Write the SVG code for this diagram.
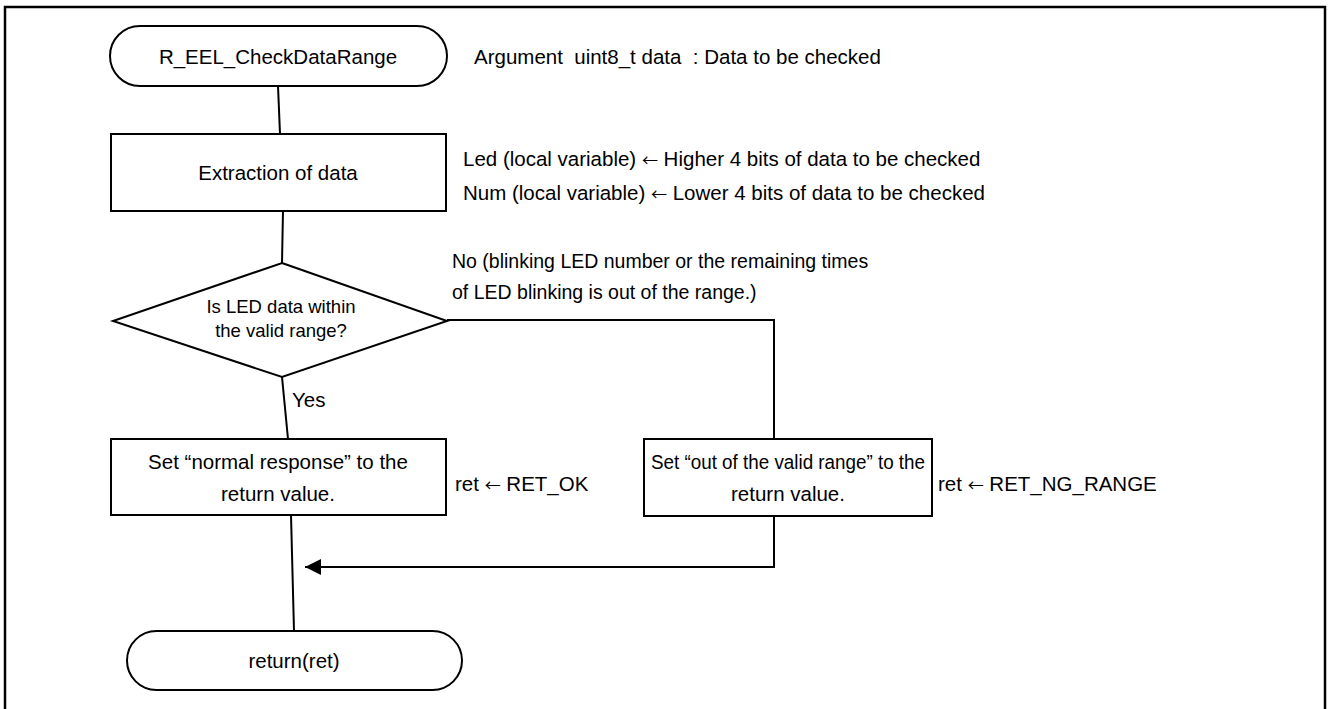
<svg xmlns="http://www.w3.org/2000/svg" width="1328" height="709" viewBox="0 0 1328 709">
<defs>
<style>
.shape{fill:#fff;stroke:#000;stroke-width:2}
.line{fill:none;stroke:#000;stroke-width:2}
.t{font-family:"Liberation Sans",Arial,sans-serif;font-size:20.5px;fill:#000;white-space:pre}
.c{text-anchor:middle}
.d{font-size:18.5px}
.n{font-size:19.5px}
.ar{font-family:"Noto Sans CJK JP","Liberation Sans",sans-serif;font-size:16px}
</style>
<marker id="arr" viewBox="0 0 10 10" refX="10" refY="5" markerWidth="16" markerHeight="20" markerUnits="userSpaceOnUse" orient="auto">
<path d="M0,0 L10,5 L0,10 Z" fill="#000"/>
</marker>
</defs>
<rect width="1328" height="709" fill="#fff"/>
<rect x="5" y="7" width="1320" height="712" fill="none" stroke="#000" stroke-width="2.5"/>

<g id="connectors">
<line class="line" x1="278" y1="86" x2="280" y2="134"/>
<line class="line" x1="283" y1="211" x2="282" y2="263"/>
<line class="line" x1="282" y1="377" x2="288" y2="439"/>
<line class="line" x1="291" y1="515" x2="294" y2="631"/>
<polyline class="line" points="447,320 774,320 774,439"/>
<polyline class="line" points="774,516 774,567 305,567" marker-end="url(#arr)"/>
<text class="t" x="292" y="407">Yes</text>
<text class="t n" x="452" y="268">No (blinking LED number or the remaining times</text>
<text class="t n" x="452" y="299">of LED blinking is out of the range.)</text>
</g>

<g id="start">
<rect class="shape" x="110" y="26" width="337" height="60" rx="30" ry="30"/>
<text class="t c" x="278" y="64">R_EEL_CheckDataRange</text>
<text class="t" x="474" y="64" xml:space="preserve">Argument  uint8_t data  : Data to be checked</text>
</g>

<g id="extract">
<rect class="shape" x="111" y="134" width="335" height="77"/>
<text class="t c" x="278" y="180">Extraction of data</text>
<text class="t" x="463" y="166">Led (local variable) <tspan class="ar">←</tspan> Higher 4 bits of data to be checked</text>
<text class="t" x="463" y="200">Num (local variable) <tspan class="ar">←</tspan> Lower 4 bits of data to be checked</text>
</g>

<g id="decision">
<polygon class="shape" points="282,263 447,321 282,377 113,321"/>
<text class="t c d" x="281" y="313">Is LED data within</text>
<text class="t c d" x="281" y="337">the valid range?</text>
</g>

<g id="set-ok">
<rect class="shape" x="111" y="439" width="335" height="76"/>
<text class="t c" x="278" y="469">Set “normal response” to the</text>
<text class="t c" x="278" y="501">return value.</text>
<text class="t" x="455" y="491">ret <tspan class="ar">←</tspan> RET_OK</text>
</g>

<g id="set-ng">
<rect class="shape" x="644" y="439" width="288" height="77"/>
<text class="t c" x="788" y="469" textLength="274" lengthAdjust="spacingAndGlyphs">Set “out of the valid range” to the</text>
<text class="t c" x="788" y="501">return value.</text>
<text class="t" x="938" y="491">ret <tspan class="ar">←</tspan> RET_NG_RANGE</text>
</g>

<g id="end">
<rect class="shape" x="127" y="631" width="335" height="59" rx="29.5" ry="29.5"/>
<text class="t c" x="294" y="668">return(ret)</text>
</g>
</svg>
